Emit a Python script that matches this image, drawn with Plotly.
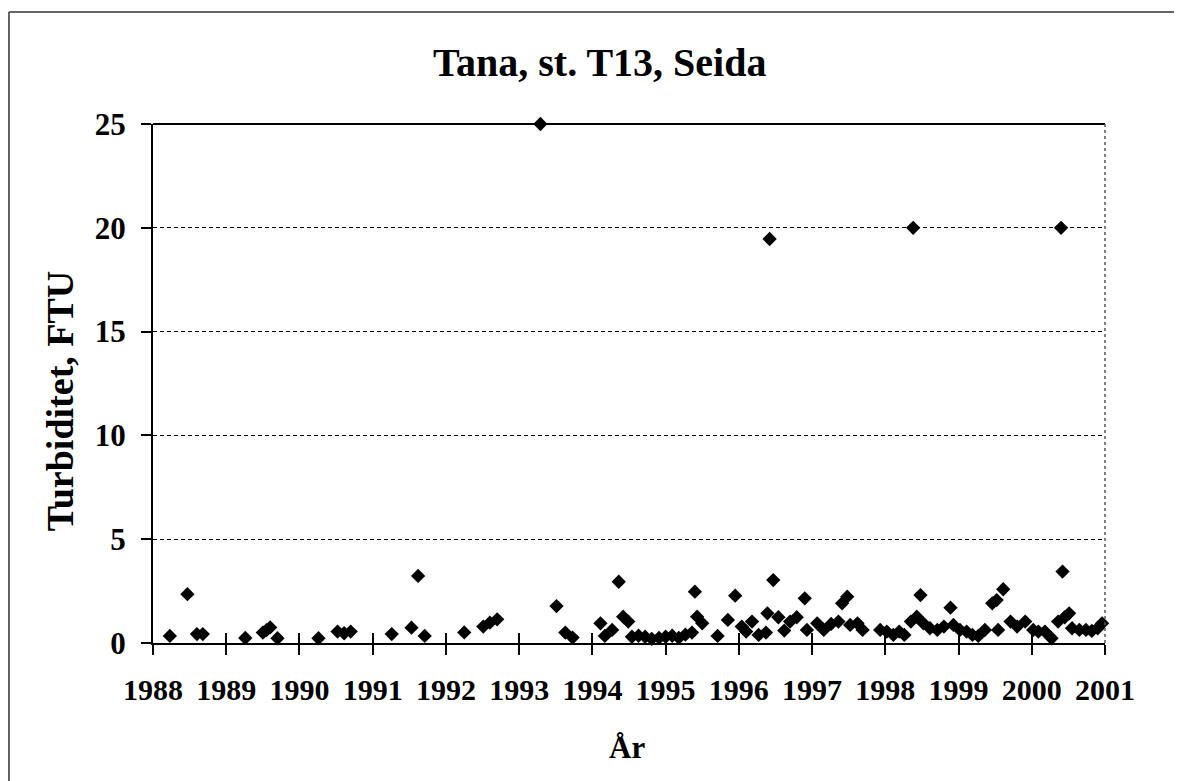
import plotly.graph_objects as go

# --- data (fractional year, turbidity FTU) ---
years = [
    1988.23, 1988.47, 1988.60, 1988.68,
    1989.26, 1989.50, 1989.55, 1989.60, 1989.70,
    1990.26, 1990.52, 1990.61, 1990.70,
    1991.26, 1991.53, 1991.62, 1991.71,
    1992.25, 1992.51, 1992.60, 1992.70,
    1993.29, 1993.51, 1993.63, 1993.73,
    1994.11, 1994.17, 1994.27, 1994.36, 1994.42, 1994.49,
    1994.54, 1994.63, 1994.72, 1994.81, 1994.91, 1995.00, 1995.09, 1995.18, 1995.27, 1995.36,
    1995.40, 1995.43, 1995.50, 1995.71, 1995.85, 1995.95,
    1996.04, 1996.10, 1996.18, 1996.27, 1996.37, 1996.39, 1996.42, 1996.47, 1996.54, 1996.62,
    1996.70, 1996.79, 1996.90, 1996.93,
    1997.07, 1997.16, 1997.26, 1997.36, 1997.41, 1997.48, 1997.52, 1997.62, 1997.69, 1997.93,
    1998.02, 1998.11, 1998.19, 1998.26, 1998.35, 1998.38, 1998.43, 1998.48, 1998.52, 1998.61,
    1998.71, 1998.80, 1998.89, 1998.93,
    1999.02, 1999.11, 1999.19, 1999.27, 1999.36, 1999.46, 1999.52, 1999.54, 1999.61, 1999.71,
    1999.80, 1999.91,
    2000.02, 2000.09, 2000.18, 2000.27, 2000.36, 2000.42, 2000.45, 2000.40, 2000.51, 2000.55,
    2000.65, 2000.74, 2000.82, 2000.90, 2000.96,
]
turbidity = [
    0.34, 2.35, 0.43, 0.43,
    0.24, 0.50, 0.62, 0.75, 0.23,
    0.23, 0.55, 0.47, 0.55,
    0.43, 0.74, 3.23, 0.34,
    0.51, 0.79, 0.98, 1.14,
    25.0, 1.78, 0.50, 0.26,
    0.95, 0.34, 0.63, 2.95, 1.27, 1.03,
    0.30, 0.35, 0.30, 0.20, 0.25, 0.30, 0.35, 0.25, 0.40, 0.50,
    2.47, 1.27, 0.95, 0.34, 1.11, 2.28,
    0.79, 0.55, 1.03, 0.39, 0.50, 1.43, 19.46, 3.03, 1.24, 0.60,
    1.03, 1.24, 2.15, 0.63,
    0.95, 0.63, 0.92, 1.03, 1.91, 2.23, 0.87, 0.95, 0.63, 0.63,
    0.55, 0.39, 0.55, 0.39, 1.03, 20.0, 1.27, 2.31, 0.95, 0.71,
    0.63, 0.79, 1.70, 0.87,
    0.63, 0.55, 0.39, 0.34, 0.63, 1.91, 2.07, 0.63, 2.59, 1.03,
    0.79, 1.03,
    0.63, 0.55, 0.55, 0.23, 1.03, 3.44, 1.24, 20.0, 1.43, 0.71,
    0.63, 0.63, 0.58, 0.71, 0.95,
]
x_ticks = list(range(1988, 2002))
y_ticks = [0, 5, 10, 15, 20, 25]

title_text = "Tana, st. T13, Seida"
x_title = "År"
y_title = "Turbiditet, FTU"

FONT = "Liberation Serif"

fig = go.Figure()
fig.add_trace(go.Scatter(
    x=years, y=turbidity, mode="markers", cliponaxis=False,
    marker=dict(symbol="diamond", size=11, color="black", line=dict(width=0)),
    showlegend=False,
))
# invisible trace on overlay axis for inside ticks
fig.add_trace(go.Scatter(x=[x_ticks[0]], y=[0], xaxis="x2", mode="markers",
                         marker=dict(opacity=0), showlegend=False, hoverinfo="skip"))

fig.update_layout(
    width=1174, height=773,
    margin=dict(l=145, r=77, t=116, b=138),
    paper_bgcolor="white", plot_bgcolor="white",
    font=dict(family=FONT, color="black"),
    xaxis=dict(
        range=[1988, 2001], tickvals=x_ticks, ticktext=[str(v) for v in x_ticks],
        ticks="outside", ticklen=10, tickwidth=1.5, tickcolor="black",
        showline=True, linecolor="black", linewidth=2, mirror=False,
        showgrid=False, zeroline=False,
        tickfont=dict(family=FONT, size=30, weight="bold"),
        ticklabelstandoff=9,
    ),
    xaxis2=dict(
        range=[1988, 2001], tickvals=x_ticks, overlaying="x", anchor="y",
        ticks="inside", ticklen=10, tickwidth=1.5, tickcolor="black",
        showticklabels=False, showgrid=False, zeroline=False, showline=False,
    ),
    yaxis=dict(
        range=[0, 25], tickvals=y_ticks,
        ticks="outside", ticklen=10, tickwidth=1.5, tickcolor="black",
        showline=True, linecolor="black", linewidth=2,
        showgrid=True, gridcolor="black", griddash="4px,3px", gridwidth=1,
        zeroline=False,
        tickfont=dict(family=FONT, size=31, weight="bold"),
        ticklabelstandoff=9,
    ),
    annotations=[
        dict(text=title_text, xref="paper", yref="paper", x=0.4685, y=1.119,
             xanchor="center", yanchor="middle", showarrow=False,
             font=dict(family=FONT, size=40, weight="bold")),
        dict(text=x_title, xref="paper", yref="paper", x=0.498, y=-0.202,
             xanchor="center", yanchor="middle", showarrow=False,
             font=dict(family=FONT, size=31, weight="bold")),
        dict(text=y_title, xref="paper", yref="paper", x=-0.0977, y=0.466,
             xanchor="center", yanchor="middle", showarrow=False, textangle=-90,
             font=dict(family=FONT, size=38, weight="bold")),
    ],
    shapes=[
        # top border of plot area
        dict(type="line", xref="paper", yref="paper", x0=0, x1=1, y0=1, y1=1,
             line=dict(color="black", width=2)),
        # right border of plot area (grey, dotted)
        dict(type="line", xref="paper", yref="paper", x0=1, x1=1, y0=0, y1=1,
             line=dict(color="#555555", width=1.5, dash="dot")),
        # outer chart frame (left and top edges visible)
        dict(type="line", xref="paper", yref="paper", x0=-0.1513, x1=-0.1513, y0=1.2158, y1=-0.27,
             line=dict(color="#333333", width=1.5)),
        dict(type="line", xref="paper", yref="paper", x0=-0.1513, x1=1.09, y0=1.2158, y1=1.2158,
             line=dict(color="#333333", width=1.5)),
    ],
)

fig.write_html("out.html")
